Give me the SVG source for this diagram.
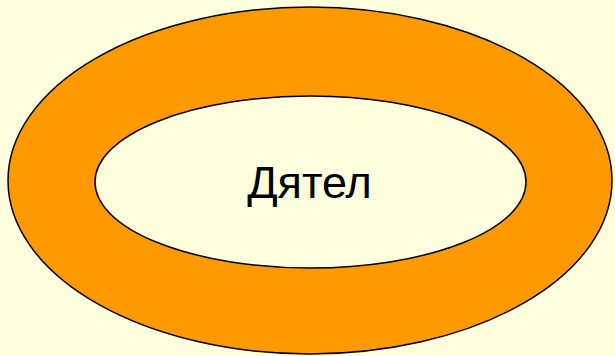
<svg xmlns="http://www.w3.org/2000/svg" width="615" height="356" viewBox="0 0 615 356">
<style>
.ring{stroke:#000;stroke-width:1.5}
.lbl{font-family:"Liberation Sans",Arial,sans-serif;font-size:45px;fill:#000}
</style>
<rect width="615" height="356" fill="#FFFFDD"/>
<g id="outer">
<ellipse class="ring" cx="310" cy="180.5" rx="302" ry="173.5" fill="#FF9900"/>
</g>
<g id="inner">
<ellipse class="ring" cx="310.5" cy="182" rx="215.5" ry="86" fill="#FFFFDD"/>
<text class="lbl" x="309.5" y="197.5" text-anchor="middle">Дятел</text>
</g>
<g id="connectors"/>
</svg>
